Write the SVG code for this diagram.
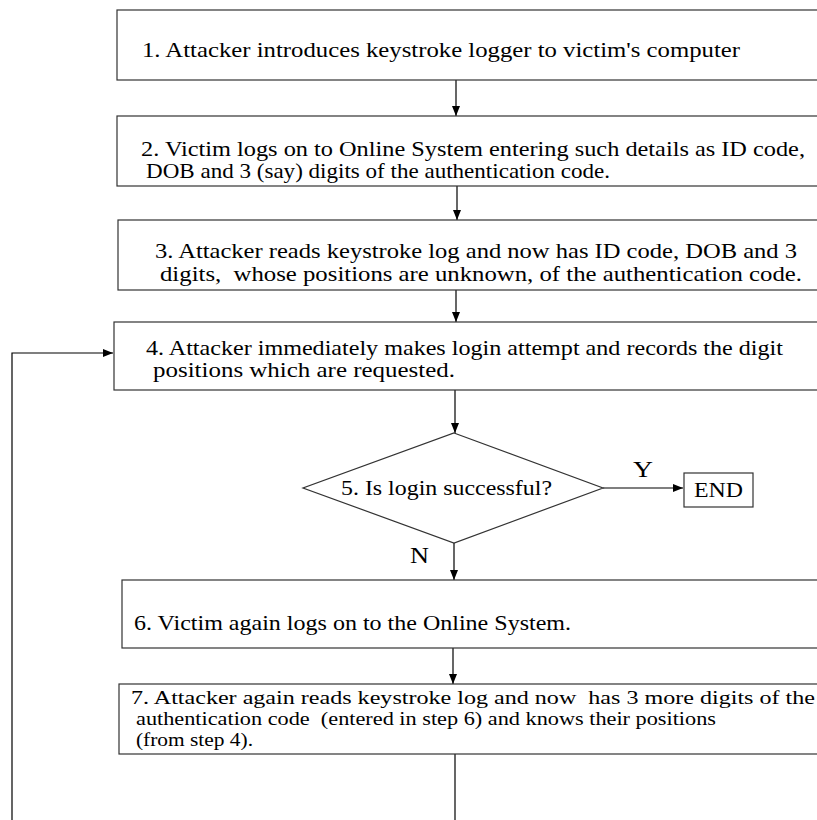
<svg xmlns="http://www.w3.org/2000/svg" width="817" height="820" viewBox="0 0 817 820">
<defs>
<marker id="ah" markerWidth="10" markerHeight="8" refX="10" refY="4" orient="auto" markerUnits="userSpaceOnUse">
<path d="M0,0 L10,4 L0,8 Z" fill="#000"/>
</marker>
<style>
.box{fill:#fff;stroke:#333;stroke-width:1.2}
.t{font-family:"Liberation Serif","Times New Roman",serif;font-size:21px;fill:#000;white-space:pre}
.s{font-size:19px}
.lbl{font-family:"Liberation Serif","Times New Roman",serif;font-size:23px;fill:#000}
.c{fill:none;stroke:#000;stroke-width:1.2}
</style>
</defs>
<rect width="817" height="820" fill="#fff"/>
<g id="connectors">
<line class="c" x1="456" y1="80" x2="456" y2="116" marker-end="url(#ah)"/>
<line class="c" x1="457" y1="186" x2="457" y2="220" marker-end="url(#ah)"/>
<line class="c" x1="456" y1="290" x2="456" y2="322" marker-end="url(#ah)"/>
<line class="c" x1="455" y1="390" x2="455" y2="433" marker-end="url(#ah)"/>
<line class="c" x1="603" y1="488" x2="683" y2="488" marker-end="url(#ah)"/>
<line class="c" x1="454" y1="543" x2="454" y2="580" marker-end="url(#ah)"/>
<line class="c" x1="453" y1="648" x2="453" y2="684" marker-end="url(#ah)"/>
<polyline class="c" points="455,754 455,820"/>
<polyline class="c" points="12,820 12,353 113,353" marker-end="url(#ah)"/>
<text class="lbl" x="633" y="477" textLength="20" lengthAdjust="spacingAndGlyphs">Y</text>
<text class="lbl" x="410" y="563" textLength="19" lengthAdjust="spacingAndGlyphs">N</text>
</g>
<g id="n1">
<rect class="box" x="117" y="10" width="720" height="70"/>
<text class="t" x="142" y="57" textLength="598" lengthAdjust="spacingAndGlyphs">1. Attacker introduces keystroke logger to victim's computer</text>
</g>
<g id="n2">
<rect class="box" x="117" y="116" width="720" height="70"/>
<text class="t" x="141" y="156" textLength="664" lengthAdjust="spacingAndGlyphs">2. Victim logs on to Online System entering such details as ID code,</text>
<text class="t" x="146" y="178" textLength="464" lengthAdjust="spacingAndGlyphs">DOB and 3 (say) digits of the authentication code.</text>
</g>
<g id="n3">
<rect class="box" x="118" y="220" width="720" height="70"/>
<text class="t" x="155" y="258" textLength="642" lengthAdjust="spacingAndGlyphs">3. Attacker reads keystroke log and now has ID code, DOB and 3</text>
<text class="t" x="160" y="281" textLength="642" lengthAdjust="spacingAndGlyphs" xml:space="preserve">digits,  whose positions are unknown, of the authentication code.</text>
</g>
<g id="n4">
<rect class="box" x="114" y="322" width="720" height="68"/>
<text class="t" x="146" y="355" textLength="637" lengthAdjust="spacingAndGlyphs">4. Attacker immediately makes login attempt and records the digit</text>
<text class="t" x="153" y="377" textLength="302" lengthAdjust="spacingAndGlyphs">positions which are requested.</text>
</g>
<g id="n5">
<polygon class="box" points="454,433 603,488 454,543 303,488"/>
<text class="t" x="341" y="495" textLength="211" lengthAdjust="spacingAndGlyphs">5. Is login successful?</text>
</g>
<g id="end">
<rect class="box" x="684" y="473" width="69" height="34"/>
<text class="t" x="694" y="497" textLength="49" lengthAdjust="spacingAndGlyphs">END</text>
</g>
<g id="n6">
<rect class="box" x="122" y="580" width="720" height="68"/>
<text class="t" x="134" y="630" textLength="437" lengthAdjust="spacingAndGlyphs">6. Victim again logs on to the Online System.</text>
</g>
<g id="n7">
<rect class="box" x="119" y="684" width="720" height="70"/>
<text class="t s" x="131" y="704" textLength="684" lengthAdjust="spacingAndGlyphs" xml:space="preserve">7. Attacker again reads keystroke log and now  has 3 more digits of the</text>
<text class="t s" x="136" y="725" textLength="580" lengthAdjust="spacingAndGlyphs" xml:space="preserve">authentication code  (entered in step 6) and knows their positions</text>
<text class="t s" x="136" y="746" textLength="117" lengthAdjust="spacingAndGlyphs">(from step 4).</text>
</g>
</svg>
